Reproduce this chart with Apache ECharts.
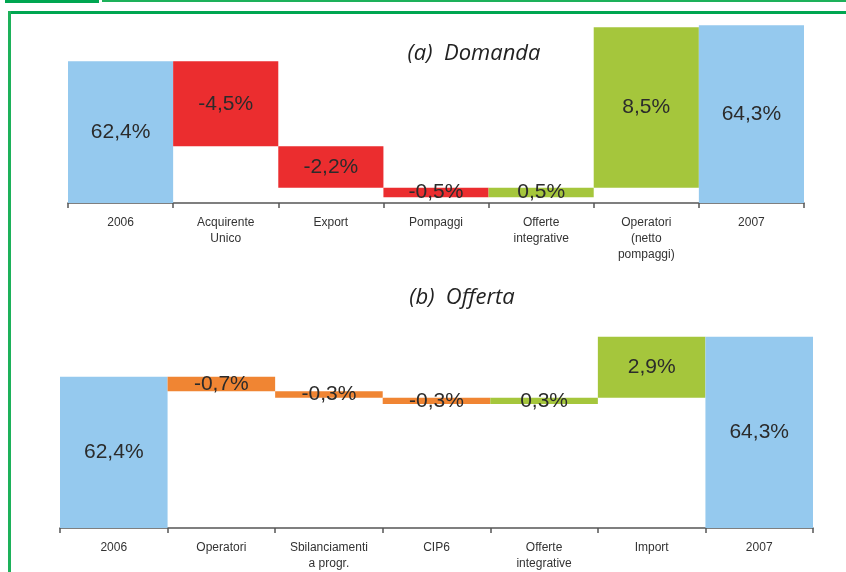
<!DOCTYPE html>
<html>
<head>
<meta charset="utf-8">
<script src="https://cdn.jsdelivr.net/npm/echarts@6/dist/echarts.min.js"></script>
<style>
  html, body { margin: 0; padding: 0; background: #ffffff; }
  #chart { width: 846px; height: 572px; }
</style>
</head>
<body>
<div id="chart"></div>
<script>
(function() {
    // --- data ---
    var domandaCats = ['2006', 'Acquirente\nUnico', 'Export', 'Pompaggi', 'Offerte\nintegrative', 'Operatori\n(netto\npompaggi)', '2007'];
    var domandaValues = [62.4, -4.5, -2.2, -0.5, 0.5, 8.5, 64.3];
    var domandaTotals = [true, false, false, false, false, false, true];

    var offertaCats = ['2006', 'Operatori', 'Sbilanciamenti\na progr.', 'CIP6', 'Offerte\nintegrative', 'Import', '2007'];
    var offertaValues = [62.4, -0.7, -0.3, -0.3, 0.3, 2.9, 64.3];
    var offertaTotals = [true, false, false, false, false, false, true];

    var blue = '#95c9ee';
    var red = '#eb2d2f';
    var green = '#a5c63c';
    var orange = '#f08533';
    var ink = '#2b2b2b';
    var axisGrey = '#555555';
    var frameGreen = '#00a651';

    // waterfall helper: transparent base + visible step
    function waterfall(values, totals, negColor) {
        var base = [], step = [], level = 0;
        for (var i = 0; i < values.length; i++) {
            var v = values[i];
            if (totals[i]) {
                base.push(0);
                step.push({ value: v, itemStyle: { color: blue } });
                level = v;
            } else {
                base.push(Math.min(level, level + v));
                step.push({ value: Math.abs(v), itemStyle: { color: v < 0 ? negColor : green } });
                level = level + v;
            }
        }
        return { base: base, step: step };
    }

    function fmt(values) {
        return function(p) {
            return values[p.dataIndex].toFixed(1).replace('.', ',') + '%';
        };
    }

    var wa = waterfall(domandaValues, domandaTotals, red);
    var wb = waterfall(offertaValues, offertaTotals, orange);

    var chart = echarts.init(document.getElementById('chart'), null, { renderer: 'canvas' });

    function xAxisFor(idx, cats) {
        return {
            type: 'category',
            gridIndex: idx,
            data: cats,
            axisLine: { lineStyle: { color: axisGrey, width: 1.5 } },
            axisTick: { show: true, length: 5, alignWithLabel: false, lineStyle: { color: axisGrey, width: 1.5 } },
            axisLabel: {
                interval: 0,
                color: '#333333',
                fontSize: 12,
                fontFamily: 'Liberation Sans',
                lineHeight: 16,
                margin: 12
            }
        };
    }

    function yAxisFor(idx, min, max) {
        return { type: 'value', gridIndex: idx, min: min, max: max, show: false, splitLine: { show: false } };
    }

    var labelStyle = {
        show: true,
        position: 'inside',
        color: ink,
        fontSize: 21,
        fontFamily: 'Liberation Sans'
    };

    var option = {
        animation: false,
        backgroundColor: '#ffffff',
        grid: [
            { left: 68, right: 42, top: 12, height: 191 },
            { left: 60, right: 33, top: 322, height: 206 }
        ],
        xAxis: [xAxisFor(0, domandaCats), xAxisFor(1, offertaCats)],
        yAxis: [yAxisFor(0, 54.9, 65), yAxisFor(1, 55.2, 65)],
        graphic: [
            { type: 'rect', shape: { x: 5, y: 0, width: 94, height: 3 }, style: { fill: frameGreen } },
            { type: 'rect', shape: { x: 102, y: 0, width: 744, height: 2 }, style: { fill: '#1db15a' } },
            { type: 'rect', shape: { x: 8, y: 11, width: 838, height: 3 }, style: { fill: frameGreen } },
            { type: 'rect', shape: { x: 8, y: 11, width: 3, height: 561 }, style: { fill: '#1db15a' } },
            {
                type: 'text', x: 474, y: 54,
                style: { text: '(a)  Domanda', fill: '#222222', font: 'italic 22px "Open Sans"', textAlign: 'center', textVerticalAlign: 'middle' }
            },
            {
                type: 'text', x: 462, y: 298,
                style: { text: '(b)  Offerta', fill: '#222222', font: 'italic 22px "Open Sans"', textAlign: 'center', textVerticalAlign: 'middle' }
            }
        ],
        series: [
            {
                name: 'baseA', type: 'bar', stack: 'a', xAxisIndex: 0, yAxisIndex: 0,
                data: wa.base, itemStyle: { color: 'transparent' }, barWidth: '100%', silent: true
            },
            {
                name: 'Domanda', type: 'bar', stack: 'a', xAxisIndex: 0, yAxisIndex: 0,
                data: wa.step, barWidth: '100%', label: Object.assign({ formatter: fmt(domandaValues) }, labelStyle)
            },
            {
                name: 'baseB', type: 'bar', stack: 'b', xAxisIndex: 1, yAxisIndex: 1,
                data: wb.base, itemStyle: { color: 'transparent' }, barWidth: '100%', silent: true
            },
            {
                name: 'Offerta', type: 'bar', stack: 'b', xAxisIndex: 1, yAxisIndex: 1,
                data: wb.step, barWidth: '100%', label: Object.assign({ formatter: fmt(offertaValues) }, labelStyle)
            }
        ]
    };

    chart.setOption(option);
    window.addEventListener('resize', function() { chart.resize(); });
})();
</script>
</body>
</html>
